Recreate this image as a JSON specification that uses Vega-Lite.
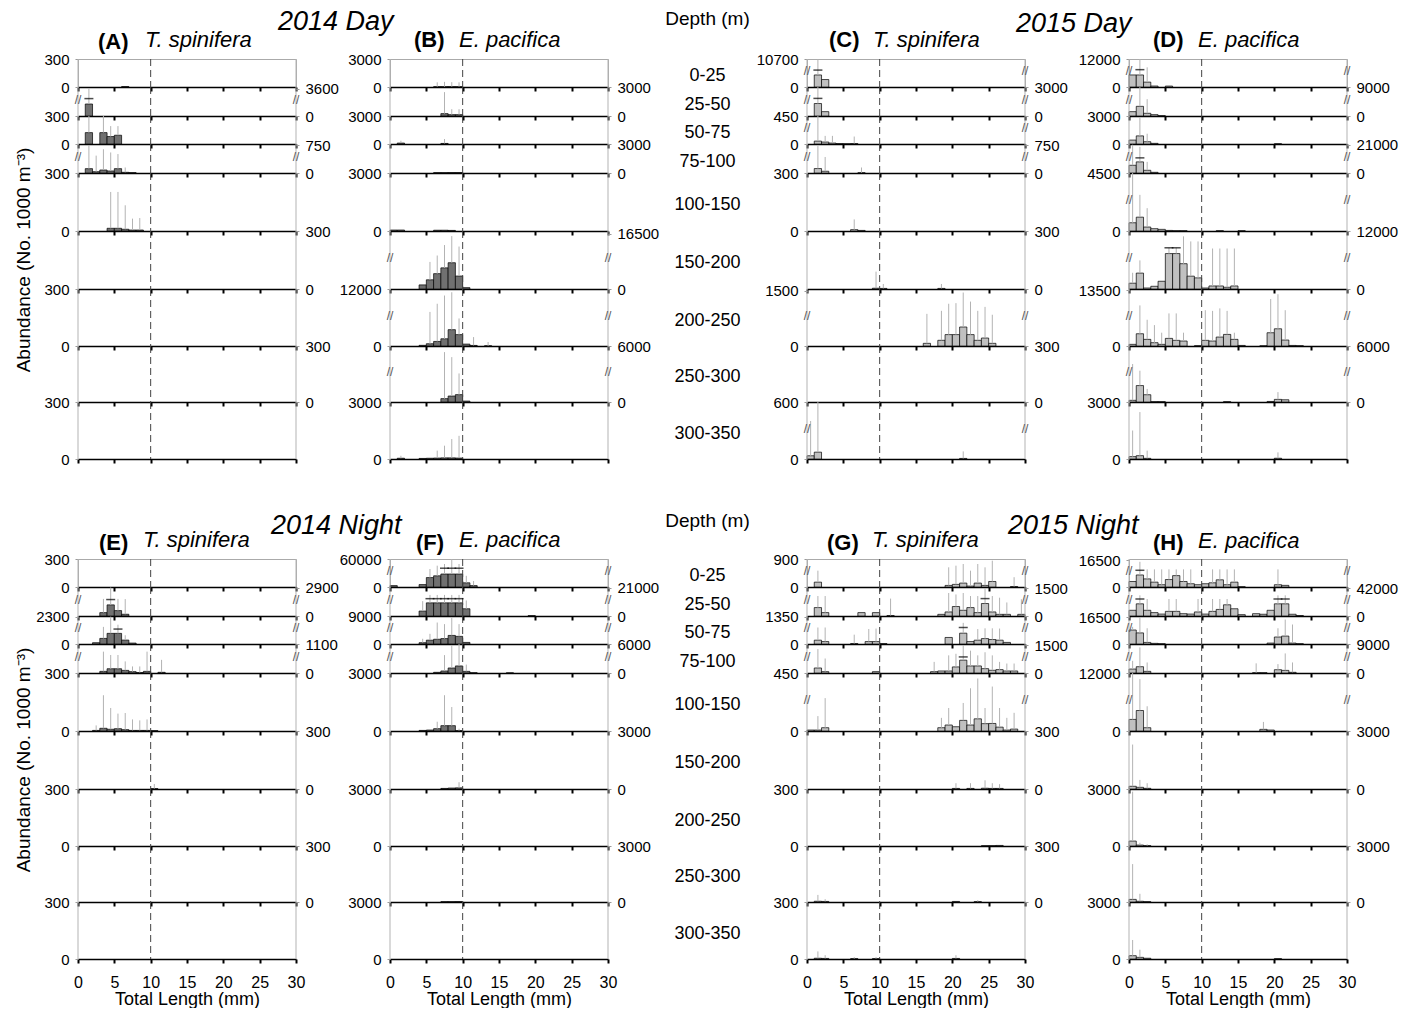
{
"$schema":"https://vega.github.io/schema/vega-lite/v6.json",
"padding":{"left":14,"top":7,"right":5,"bottom":0},
"config":{
 "font":"Liberation Sans",
 "numberFormat":"d",
 "scale":{"continuousPadding":0},
 "view":{"continuousWidth":218,"continuousHeight":28,"stroke":null},
 "axis":{"grid":false,"titleOpacity":0,"labelColor":"#000"},
 "axisX":{"labels":false,"tickSize":4,"tickWidth":2,"tickColor":"#000","domainColor":"#000","domainWidth":1.5,"tickCount":6,"labelFontSize":16,"labelPadding":11,"labelFlush":false,"titleFontSize":18,"titleFontWeight":"normal","titlePadding":0,"titleColor":"#000"},
 "axisY":{"domain":false,"tickSize":3,"tickColor":"#999","labelFontSize":15,"labelPadding":6,"labelOverlap":false},
 "bar":{"continuousBandSize":7.27,"fill":"#c0c0c0","stroke":"#000","strokeWidth":0.7},
 "rule":{"color":"#b3b3b3","strokeWidth":1},
 "tick":{"color":"#000","size":9,"thickness":1.5},
 "title":{"fontSize":22,"fontStyle":"italic","fontWeight":"normal","anchor":"start","frame":"group","baseline":"alphabetic","color":"#000"},
 "style":{"dash":{"color":"#444","stroke":"#444","strokeDash":[7,4],"strokeWidth":1.3},"bk":{"fontSize":12,"dy":-2,"color":"#555","fill":"#555"},"dl":{"fontSize":18,"dy":3}}
},
"data":{"name":"d"},
"datasets":{
"fr":[{"x":0},{"x":30}],
"ten":[{"x":10}],
"d":[
{"q":"A0","x":6.5,"v":5},
{"q":"A1","x":1.5,"v":124,"e":3600,"c":921},
{"q":"A2","x":1.5,"v":122,"e":300},{"q":"A2","x":3.5,"v":122,"e":300},{"q":"A2","x":4.5,"v":80,"e":192},{"q":"A2","x":5.5,"v":94,"e":192},
{"q":"A3","x":1.5,"v":45,"e":750},{"q":"A3","x":2.5,"v":14,"e":279},{"q":"A3","x":3.5,"v":31,"e":564},{"q":"A3","x":4.5,"v":21,"e":421},{"q":"A3","x":5.5,"v":45,"e":350},{"q":"A3","x":6.5,"v":7,"e":57},{"q":"A3","x":7.5,"v":4},
{"q":"A4","x":4.5,"v":14,"e":202},{"q":"A4","x":5.5,"v":14,"e":202},{"q":"A4","x":6.5,"v":9,"e":133},{"q":"A4","x":7.5,"v":5,"e":64},{"q":"A4","x":8.5,"v":5,"e":67},
{"q":"B0","x":6.5,"v":35,"e":500},{"q":"B0","x":7.5,"v":35,"e":550},{"q":"B0","x":8.5,"v":40,"e":520},{"q":"B0","x":9.5,"v":35,"e":500},
{"q":"B1","x":7.5,"v":245,"e":2470},{"q":"B1","x":8.5,"v":140,"e":700},{"q":"B1","x":9.5,"v":140,"e":700},
{"q":"B2","x":1.5,"v":100,"e":350},{"q":"B2","x":7.5,"v":60,"e":530},
{"q":"B3","x":6.5,"v":40},{"q":"B3","x":7.5,"v":40},{"q":"B3","x":8.5,"v":50},{"q":"B3","x":9.5,"v":50},
{"q":"B4","x":0.5,"v":50},{"q":"B4","x":1.5,"v":50},{"q":"B4","x":6.5,"v":40},{"q":"B4","x":7.5,"v":40},{"q":"B4","x":8.5,"v":30},
{"q":"B5","x":4.5,"v":212},{"q":"B5","x":5.5,"v":476,"e":1400},{"q":"B5","x":6.5,"v":794,"e":4060},{"q":"B5","x":7.5,"v":1094,"e":10000},{"q":"B5","x":8.5,"v":1359,"e":15100},{"q":"B5","x":9.5,"v":670,"e":9170},{"q":"B5","x":10.5,"v":70},
{"q":"B6","x":4.5,"v":35},{"q":"B6","x":5.5,"v":120,"e":3550},{"q":"B6","x":6.5,"v":240,"e":6570},{"q":"B6","x":7.5,"v":380,"e":9590},{"q":"B6","x":8.5,"v":860,"e":10800},{"q":"B6","x":9.5,"v":600,"e":1450},{"q":"B6","x":10.5,"v":100},{"q":"B6","x":11.5,"v":30,"e":470},{"q":"B6","x":13.5,"v":10,"e":210},
{"q":"B7","x":7.5,"v":180,"e":5020},{"q":"B7","x":8.5,"v":320,"e":4210},{"q":"B7","x":9.5,"v":395,"e":1590},{"q":"B7","x":10.5,"v":50},
{"q":"B8","x":1.5,"v":40,"e":170},{"q":"B8","x":4.5,"v":30},{"q":"B8","x":5.5,"v":40},{"q":"B8","x":6.5,"v":50,"e":440},{"q":"B8","x":7.5,"v":60,"e":700},{"q":"B8","x":8.5,"v":60,"e":1050},{"q":"B8","x":9.5,"v":50,"e":1220},
{"q":"C0","x":1.5,"v":129,"e":10700,"c":2410},{"q":"C0","x":2.5,"v":80},
{"q":"C1","x":1.5,"v":129,"e":3000,"c":760},{"q":"C1","x":2.5,"v":45},
{"q":"C2","x":1.5,"v":31,"e":450},{"q":"C2","x":2.5,"v":21,"e":87},{"q":"C2","x":3.5,"v":10,"e":87},{"q":"C2","x":4.5,"v":5},{"q":"C2","x":5.5,"v":3},{"q":"C2","x":6.5,"v":5,"e":80},
{"q":"C3","x":1.5,"v":46,"e":707},{"q":"C3","x":2.5,"v":18,"e":218},{"q":"C3","x":7.5,"v":3,"e":57},
{"q":"C4","x":6.5,"v":7,"e":60},{"q":"C4","x":7.5,"v":3},
{"q":"C5","x":9.5,"v":4,"e":90},{"q":"C5","x":10.5,"v":3,"e":26},{"q":"C5","x":18.5,"v":3,"e":26},
{"q":"C6","x":16.5,"v":14,"e":336},{"q":"C6","x":18.5,"v":30,"e":490},{"q":"C6","x":19.5,"v":60,"e":850},{"q":"C6","x":20.5,"v":60,"e":880},{"q":"C6","x":21.5,"v":100,"e":1420},{"q":"C6","x":22.5,"v":60,"e":960},{"q":"C6","x":23.5,"v":30,"e":490},{"q":"C6","x":24.5,"v":42,"e":690},{"q":"C6","x":25.5,"v":14,"e":290},
{"q":"C8","x":0.5,"v":17,"e":300},{"q":"C8","x":1.5,"v":36,"e":600},{"q":"C8","x":21.5,"v":3,"e":40},
{"q":"D0","x":0.5,"v":1290},{"q":"D0","x":1.5,"v":1290,"e":12000,"c":4000},{"q":"D0","x":2.5,"v":523,"e":5750},{"q":"D0","x":3.5,"v":105},{"q":"D0","x":5.5,"v":100},
{"q":"D1","x":0.5,"v":450},{"q":"D1","x":1.5,"v":1000,"e":9000},{"q":"D1","x":2.5,"v":280,"e":2700},{"q":"D1","x":3.5,"v":140},{"q":"D1","x":4.5,"v":40},
{"q":"D2","x":0.5,"v":420},{"q":"D2","x":1.5,"v":870,"e":2830},{"q":"D2","x":2.5,"v":245,"e":1100},{"q":"D2","x":3.5,"v":70},{"q":"D2","x":20.5,"v":30},
{"q":"D3","x":0.5,"v":800,"e":21000},{"q":"D3","x":1.5,"v":1150,"e":18000,"c":2400},{"q":"D3","x":2.5,"v":280,"e":1150},{"q":"D3","x":3.5,"v":70},
{"q":"D4","x":0.5,"v":426,"e":4500},{"q":"D4","x":1.5,"v":716,"e":2240},{"q":"D4","x":2.5,"v":205,"e":1180},{"q":"D4","x":3.5,"v":120},{"q":"D4","x":4.5,"v":85},{"q":"D4","x":5.5,"v":30},{"q":"D4","x":6.5,"v":15},{"q":"D4","x":7.5,"v":15},{"q":"D4","x":12.5,"v":15},{"q":"D4","x":15.5,"v":15},
{"q":"D5","x":0.5,"v":300,"e":840},{"q":"D5","x":1.5,"v":822,"e":1480},{"q":"D5","x":2.5,"v":52},{"q":"D5","x":3.5,"v":140},{"q":"D5","x":4.5,"v":400},{"q":"D5","x":5.5,"v":3830,"e":5920,"c":5920},{"q":"D5","x":6.5,"v":3830,"e":5920,"c":5920},{"q":"D5","x":7.5,"v":1309,"e":10060},{"q":"D5","x":8.5,"v":665,"e":8230},{"q":"D5","x":9.5,"v":576,"e":8230},{"q":"D5","x":10.5,"v":52},{"q":"D5","x":11.5,"v":157,"e":5660},{"q":"D5","x":12.5,"v":157,"e":5660},{"q":"D5","x":13.5,"v":89,"e":5660},{"q":"D5","x":14.5,"v":157,"e":5660},
{"q":"D6","x":0.5,"v":87},{"q":"D6","x":1.5,"v":645,"e":6800},{"q":"D6","x":2.5,"v":349,"e":1380},{"q":"D6","x":3.5,"v":174,"e":1100},{"q":"D6","x":4.5,"v":87,"e":700},{"q":"D6","x":5.5,"v":401,"e":3300},{"q":"D6","x":6.5,"v":297,"e":3300},{"q":"D6","x":7.5,"v":262,"e":700},{"q":"D6","x":9.5,"v":15},{"q":"D6","x":10.5,"v":297,"e":4700},{"q":"D6","x":11.5,"v":262,"e":4400},{"q":"D6","x":12.5,"v":471,"e":5500},{"q":"D6","x":13.5,"v":610,"e":4400},{"q":"D6","x":14.5,"v":349,"e":700},{"q":"D6","x":15.5,"v":30},{"q":"D6","x":18.5,"v":10},{"q":"D6","x":19.5,"v":698,"e":9600},{"q":"D6","x":20.5,"v":907,"e":11700},{"q":"D6","x":21.5,"v":314,"e":4700},{"q":"D6","x":22.5,"v":30},{"q":"D6","x":23.5,"v":15},
{"q":"D7","x":0.5,"v":90,"e":3100},{"q":"D7","x":1.5,"v":880,"e":2030},{"q":"D7","x":2.5,"v":390,"e":700},{"q":"D7","x":3.5,"v":20},{"q":"D7","x":4.5,"v":20},{"q":"D7","x":13.5,"v":20},{"q":"D7","x":19.5,"v":30},{"q":"D7","x":20.5,"v":140,"e":530},{"q":"D7","x":21.5,"v":120},
{"q":"D8","x":0.5,"v":125,"e":1500},{"q":"D8","x":1.5,"v":175,"e":2470},{"q":"D8","x":2.5,"v":35,"e":440},{"q":"D8","x":20.5,"v":40,"e":350},
{"q":"E1","x":3.5,"v":35,"e":660},{"q":"E1","x":4.5,"v":115,"e":2900,"c":534},{"q":"E1","x":5.5,"v":56,"e":660},{"q":"E1","x":6.5,"v":18,"e":620},
{"q":"E2","x":2.5,"v":14},{"q":"E2","x":3.5,"v":60,"e":650},{"q":"E2","x":4.5,"v":114,"e":2300},{"q":"E2","x":5.5,"v":114,"e":1000,"c":300},{"q":"E2","x":6.5,"v":42,"e":94},{"q":"E2","x":7.5,"v":10},
{"q":"E3","x":3.5,"v":17,"e":600},{"q":"E3","x":4.5,"v":44,"e":380},{"q":"E3","x":5.5,"v":44,"e":380},{"q":"E3","x":6.5,"v":27,"e":120},{"q":"E3","x":7.5,"v":14,"e":68},{"q":"E3","x":8.5,"v":5,"e":68},{"q":"E3","x":9.5,"v":17,"e":600},{"q":"E3","x":11.5,"v":7,"e":136},
{"q":"E4","x":2.5,"v":3,"e":29},{"q":"E4","x":3.5,"v":14,"e":185},{"q":"E4","x":4.5,"v":9,"e":119},{"q":"E4","x":5.5,"v":12,"e":90},{"q":"E4","x":6.5,"v":7,"e":93},{"q":"E4","x":7.5,"v":3,"e":60},{"q":"E4","x":8.5,"v":3,"e":55},{"q":"E4","x":9.5,"v":3,"e":60},{"q":"E4","x":10.5,"v":2},
{"q":"E5","x":10.5,"v":2,"e":26},
{"q":"F0","x":0.5,"v":150},{"q":"F0","x":4.5,"v":260},{"q":"F0","x":5.5,"v":1010,"e":18200},{"q":"F0","x":6.5,"v":1200,"e":32100},{"q":"F0","x":7.5,"v":1390,"e":39100,"c":21500},{"q":"F0","x":8.5,"v":1390,"e":60000,"c":21500},{"q":"F0","x":9.5,"v":1390,"e":39100,"c":21500},{"q":"F0","x":10.5,"v":450,"e":1200},{"q":"F0","x":11.5,"v":150,"e":640},
{"q":"F1","x":4.5,"v":510,"e":2000},{"q":"F1","x":5.5,"v":1360,"e":10800,"c":5500},{"q":"F1","x":6.5,"v":1360,"e":10800,"c":5500},{"q":"F1","x":7.5,"v":1360,"e":10800,"c":5500},{"q":"F1","x":8.5,"v":1360,"e":10800,"c":5500},{"q":"F1","x":9.5,"v":1360,"e":10800,"c":5500},{"q":"F1","x":10.5,"v":750,"e":3000},{"q":"F1","x":19.5,"v":40},
{"q":"F2","x":4.5,"v":140,"e":560},{"q":"F2","x":5.5,"v":410,"e":1090},{"q":"F2","x":6.5,"v":510,"e":5500},{"q":"F2","x":7.5,"v":580,"e":4640},{"q":"F2","x":8.5,"v":920,"e":8130},{"q":"F2","x":9.5,"v":820,"e":4640},{"q":"F2","x":10.5,"v":170},
{"q":"F3","x":6.5,"v":70},{"q":"F3","x":7.5,"v":210,"e":2550},{"q":"F3","x":8.5,"v":520,"e":5700},{"q":"F3","x":9.5,"v":730,"e":6000},{"q":"F3","x":10.5,"v":170,"e":870},{"q":"F3","x":11.5,"v":30},{"q":"F3","x":16.5,"v":15},
{"q":"F4","x":4.5,"v":30},{"q":"F4","x":5.5,"v":50},{"q":"F4","x":6.5,"v":120,"e":480},{"q":"F4","x":7.5,"v":276,"e":1850},{"q":"F4","x":8.5,"v":276,"e":1240},{"q":"F4","x":9.5,"v":20,"e":120},
{"q":"F5","x":7.5,"v":30},{"q":"F5","x":8.5,"v":50},{"q":"F5","x":9.5,"v":60,"e":350},
{"q":"F7","x":7.5,"v":20},{"q":"F7","x":8.5,"v":20},{"q":"F7","x":9.5,"v":25},
{"q":"G0","x":1.5,"v":52,"e":275},{"q":"G0","x":19.5,"v":17,"e":454},{"q":"G0","x":20.5,"v":28,"e":543},{"q":"G0","x":21.5,"v":42,"e":632},{"q":"G0","x":22.5,"v":10,"e":275},{"q":"G0","x":23.5,"v":42,"e":632},{"q":"G0","x":24.5,"v":17,"e":454},{"q":"G0","x":25.5,"v":59,"e":810},{"q":"G0","x":28.5,"v":5,"e":105},
{"q":"G1","x":1.5,"v":87,"e":696},{"q":"G1","x":2.5,"v":35,"e":696},{"q":"G1","x":7.5,"v":35},{"q":"G1","x":9.5,"v":35},{"q":"G1","x":11.5,"v":5,"e":440},{"q":"G1","x":18.5,"v":17},{"q":"G1","x":19.5,"v":42,"e":1000},{"q":"G1","x":20.5,"v":98,"e":855},{"q":"G1","x":21.5,"v":59,"e":1000},{"q":"G1","x":22.5,"v":87,"e":696},{"q":"G1","x":23.5,"v":35,"e":696},{"q":"G1","x":24.5,"v":129,"e":1500,"c":440},{"q":"G1","x":25.5,"v":42,"e":696},{"q":"G1","x":26.5,"v":17,"e":530},{"q":"G1","x":27.5,"v":17,"e":140},{"q":"G1","x":29.5,"v":17,"e":375},
{"q":"G2","x":1.5,"v":41,"e":373},{"q":"G2","x":2.5,"v":26,"e":373},{"q":"G2","x":6.5,"v":5,"e":100},{"q":"G2","x":8.5,"v":26,"e":240},{"q":"G2","x":9.5,"v":26,"e":280},{"q":"G2","x":10.5,"v":5},{"q":"G2","x":19.5,"v":70},{"q":"G2","x":21.5,"v":116,"e":790,"c":373},{"q":"G2","x":22.5,"v":26},{"q":"G2","x":23.5,"v":41,"e":234},{"q":"G2","x":24.5,"v":58,"e":300},{"q":"G2","x":25.5,"v":48,"e":300},{"q":"G2","x":26.5,"v":41,"e":280},{"q":"G2","x":27.5,"v":17},
{"q":"G3","x":1.5,"v":52,"e":1090},{"q":"G3","x":2.5,"v":14,"e":150},{"q":"G3","x":9.5,"v":14},{"q":"G3","x":17.5,"v":14,"e":115},{"q":"G3","x":18.5,"v":21},{"q":"G3","x":19.5,"v":21,"e":464},{"q":"G3","x":20.5,"v":63,"e":621},{"q":"G3","x":21.5,"v":133,"e":1500,"c":307},{"q":"G3","x":22.5,"v":73,"e":935},{"q":"G3","x":23.5,"v":73,"e":464},{"q":"G3","x":24.5,"v":45,"e":778},{"q":"G3","x":25.5,"v":28,"e":464},{"q":"G3","x":26.5,"v":35,"e":115},{"q":"G3","x":27.5,"v":21,"e":98},{"q":"G3","x":28.5,"v":21,"e":98},
{"q":"G4","x":0.5,"v":5},{"q":"G4","x":1.5,"v":5,"e":77},{"q":"G4","x":2.5,"v":17,"e":190},{"q":"G4","x":18.5,"v":17,"e":68},{"q":"G4","x":19.5,"v":31,"e":119},{"q":"G4","x":20.5,"v":22},{"q":"G4","x":21.5,"v":55,"e":145},{"q":"G4","x":22.5,"v":31,"e":292},{"q":"G4","x":23.5,"v":63,"e":393},{"q":"G4","x":24.5,"v":38,"e":119},{"q":"G4","x":25.5,"v":39,"e":310},{"q":"G4","x":26.5,"v":20,"e":119},{"q":"G4","x":27.5,"v":5,"e":68},{"q":"G4","x":28.5,"v":10,"e":94},
{"q":"G5","x":20.5,"v":3,"e":30},{"q":"G5","x":22.5,"v":3,"e":30},{"q":"G5","x":24.5,"v":4,"e":45},{"q":"G5","x":25.5,"v":3,"e":30},{"q":"G5","x":26.5,"v":3,"e":25},
{"q":"G6","x":24.5,"v":2},{"q":"G6","x":25.5,"v":2},{"q":"G6","x":26.5,"v":3},
{"q":"G7","x":1.5,"v":4,"e":38},{"q":"G7","x":2.5,"v":3,"e":15},{"q":"G7","x":20.5,"v":3},{"q":"G7","x":23.5,"v":2,"e":10},
{"q":"G8","x":1.5,"v":4,"e":40},{"q":"G8","x":2.5,"v":3,"e":20},{"q":"G8","x":6.5,"v":2,"e":10},{"q":"G8","x":9.5,"v":2,"e":10},{"q":"G8","x":20.5,"v":3,"e":20},
{"q":"H0","x":0.5,"v":590},{"q":"H0","x":1.5,"v":1290,"e":14700,"c":4700},{"q":"H0","x":2.5,"v":870,"e":5790},{"q":"H0","x":3.5,"v":520,"e":5790},{"q":"H0","x":4.5,"v":245,"e":5790},{"q":"H0","x":5.5,"v":800,"e":5790},{"q":"H0","x":6.5,"v":1220,"e":5790},{"q":"H0","x":7.5,"v":590,"e":5790},{"q":"H0","x":8.5,"v":350,"e":5790},{"q":"H0","x":9.5,"v":245},{"q":"H0","x":10.5,"v":350},{"q":"H0","x":11.5,"v":450,"e":5790},{"q":"H0","x":12.5,"v":770,"e":5790},{"q":"H0","x":13.5,"v":245,"e":5790},{"q":"H0","x":14.5,"v":520,"e":5790},{"q":"H0","x":15.5,"v":30},{"q":"H0","x":20.5,"v":245,"e":5790},{"q":"H0","x":21.5,"v":175},
{"q":"H1","x":0.5,"v":590},{"q":"H1","x":1.5,"v":1260,"e":20000,"c":9000},{"q":"H1","x":2.5,"v":590,"e":9000},{"q":"H1","x":3.5,"v":350},{"q":"H1","x":4.5,"v":200},{"q":"H1","x":5.5,"v":480,"e":9000},{"q":"H1","x":6.5,"v":480,"e":9000},{"q":"H1","x":7.5,"v":240},{"q":"H1","x":8.5,"v":200},{"q":"H1","x":9.5,"v":420,"e":9000},{"q":"H1","x":10.5,"v":200},{"q":"H1","x":11.5,"v":480,"e":9000},{"q":"H1","x":12.5,"v":680,"e":9000},{"q":"H1","x":13.5,"v":1160,"e":9000},{"q":"H1","x":14.5,"v":750},{"q":"H1","x":15.5,"v":140},{"q":"H1","x":17.5,"v":240},{"q":"H1","x":18.5,"v":180},{"q":"H1","x":19.5,"v":590},{"q":"H1","x":20.5,"v":1260,"e":20000,"c":9000},{"q":"H1","x":21.5,"v":1260,"e":20000,"c":9000},{"q":"H1","x":22.5,"v":180},{"q":"H1","x":23.5,"v":50},
{"q":"H2","x":0.5,"v":1500,"e":5250},{"q":"H2","x":1.5,"v":1190,"e":16500},{"q":"H2","x":2.5,"v":170,"e":3550},{"q":"H2","x":3.5,"v":70},{"q":"H2","x":4.5,"v":30},{"q":"H2","x":19.5,"v":100},{"q":"H2","x":20.5,"v":750,"e":3550},{"q":"H2","x":21.5,"v":850,"e":13800},{"q":"H2","x":22.5,"v":100,"e":8000},{"q":"H2","x":23.5,"v":30},
{"q":"H3","x":0.5,"v":410,"e":1260},{"q":"H3","x":1.5,"v":650,"e":7250},{"q":"H3","x":2.5,"v":170,"e":1090},{"q":"H3","x":17.5,"v":30,"e":1000},{"q":"H3","x":18.5,"v":30},{"q":"H3","x":20.5,"v":340,"e":920},{"q":"H3","x":21.5,"v":270,"e":4120},{"q":"H3","x":22.5,"v":70,"e":1090},
{"q":"H4","x":0.5,"v":600,"e":12000},{"q":"H4","x":1.5,"v":1060,"e":9780},{"q":"H4","x":2.5,"v":170,"e":1280},{"q":"H4","x":18.5,"v":85,"e":470},{"q":"H4","x":19.5,"v":50},
{"q":"H5","x":0.5,"v":140,"e":2300},{"q":"H5","x":1.5,"v":87,"e":470},{"q":"H5","x":2.5,"v":35,"e":300},
{"q":"H6","x":0.5,"v":260,"e":2860},{"q":"H6","x":1.5,"v":50,"e":170},{"q":"H6","x":2.5,"v":20,"e":90},
{"q":"H7","x":0.5,"v":140,"e":2030},{"q":"H7","x":1.5,"v":40,"e":440},{"q":"H7","x":2.5,"v":20},
{"q":"H8","x":0.5,"v":175,"e":1000},{"q":"H8","x":1.5,"v":87,"e":490},{"q":"H8","x":2.5,"v":40},{"q":"H8","x":20.5,"v":20}
]},
"columns":7,"spacing":0,"bounds":"flush","align":"each",
"concat":[
{"height":28,"view":{"stroke":"#aaa"},"title":{"text":"T. spinifera","dx":67,"offset":0.5},"transform":[{"filter":"datum.q=='A0'"}],"encoding":{"x":{"field":"x","type":"quantitative","scale":{"domain":[0,30],"padding":0}}},"layer":[{"mark":{"type":"bar","fill":"#707070"},"encoding":{"y":{"field":"v","type":"quantitative","scale":{"domain":[0,150,300],"range":[28,14,0]},"axis":{"values":[0,150,300]}}}},{"transform":[{"filter":"datum.e"}],"mark":"rule","encoding":{"y":{"field":"v","type":"quantitative"},"y2":{"field":"e"}}},{"data":{"name":"fr"},"mark":"rule","encoding":{}},{"data":{"name":"ten"},"mark":{"type":"rule","style":"dash"},"encoding":{}}]},
{"width":94,"height":1,"data":{"values":[]},"mark":"point"},
{"height":28,"view":{"stroke":"#aaa"},"title":{"text":"E. pacifica","dx":69,"offset":0.5},"transform":[{"filter":"datum.q=='B0'"}],"encoding":{"x":{"field":"x","type":"quantitative","scale":{"domain":[0,30],"padding":0}}},"layer":[{"mark":{"type":"bar","fill":"#707070"},"encoding":{"y":{"field":"v","type":"quantitative","scale":{"domain":[0,1500,3000],"range":[28,14,0]},"axis":{"values":[0,1500,3000]}}}},{"transform":[{"filter":"datum.e"}],"mark":"rule","encoding":{"y":{"field":"v","type":"quantitative"},"y2":{"field":"e"}}},{"data":{"name":"fr"},"mark":"rule","encoding":{}},{"data":{"name":"ten"},"mark":{"type":"rule","style":"dash"},"encoding":{}}]},
{"width":199,"height":28,"title":{"text":"Depth (m)","anchor":"middle","fontStyle":"normal","fontSize":19,"offset":30},"data":{"values":[{"t":"0-25"}]},"mark":{"type":"text","style":"dl"},"encoding":{"text":{"field":"t","type":"nominal"}}},
{"height":28,"view":{"stroke":"#aaa"},"title":{"text":"T. spinifera","dx":66,"offset":0.5},"transform":[{"filter":"datum.q=='C0'"}],"encoding":{"x":{"field":"x","type":"quantitative","scale":{"domain":[0,30],"padding":0}}},"layer":[{"mark":"bar","encoding":{"y":{"field":"v","type":"quantitative","scale":{"domain":[0,150,10700],"range":[28,14,0]},"axis":{"values":[0,150,10700]}}}},{"transform":[{"filter":"datum.e"}],"mark":"rule","encoding":{"y":{"field":"v","type":"quantitative"},"y2":{"field":"e"}}},{"data":{"name":"fr"},"mark":"rule","encoding":{}},{"data":{"name":"ten"},"mark":{"type":"rule","style":"dash"},"encoding":{}},{"transform":[{"filter":"datum.c"}],"mark":{"type":"tick","orient":"horizontal"},"encoding":{"y":{"field":"c","type":"quantitative"}}},{"data":{"name":"fr"},"mark":{"type":"text","text":"//","style":"bk"},"encoding":{"y":{"datum":150}}}]},
{"width":104,"height":1,"data":{"values":[]},"mark":"point"},
{"height":28,"view":{"stroke":"#aaa"},"title":{"text":"E. pacifica","dx":69,"offset":0.5},"transform":[{"filter":"datum.q=='D0'"}],"encoding":{"x":{"field":"x","type":"quantitative","scale":{"domain":[0,30],"padding":0}}},"layer":[{"mark":"bar","encoding":{"y":{"field":"v","type":"quantitative","scale":{"domain":[0,1500,12000],"range":[28,14,0]},"axis":{"values":[0,1500,12000]}}}},{"transform":[{"filter":"datum.e"}],"mark":"rule","encoding":{"y":{"field":"v","type":"quantitative"},"y2":{"field":"e"}}},{"data":{"name":"fr"},"mark":"rule","encoding":{}},{"data":{"name":"ten"},"mark":{"type":"rule","style":"dash"},"encoding":{}},{"transform":[{"filter":"datum.c"}],"mark":{"type":"tick","orient":"horizontal"},"encoding":{"y":{"field":"c","type":"quantitative"}}},{"data":{"name":"fr"},"mark":{"type":"text","text":"//","style":"bk"},"encoding":{"y":{"datum":1500}}}]},

{"height":29,"title":{"text":"(A)","fontStyle":"normal","fontWeight":"bold","dx":20,"offset":28},"transform":[{"filter":"datum.q=='A1'"}],"encoding":{"x":{"field":"x","type":"quantitative","scale":{"domain":[0,30],"padding":0}}},"layer":[{"mark":{"type":"bar","fill":"#707070"},"encoding":{"y":{"field":"v","type":"quantitative","scale":{"domain":[0,150,3600],"range":[29,14.5,0]},"axis":{"orient":"right","values":[0,150,3600]}}}},{"transform":[{"filter":"datum.e"}],"mark":"rule","encoding":{"y":{"field":"v","type":"quantitative"},"y2":{"field":"e"}}},{"data":{"name":"fr"},"mark":"rule","encoding":{}},{"data":{"name":"ten"},"mark":{"type":"rule","style":"dash"},"encoding":{}},{"transform":[{"filter":"datum.c"}],"mark":{"type":"tick","orient":"horizontal"},"encoding":{"y":{"field":"c","type":"quantitative"}}},{"data":{"name":"fr"},"mark":{"type":"text","text":"//","style":"bk"},"encoding":{"y":{"datum":150}}}]},
{"width":94,"height":1,"data":{"values":[]},"mark":"point"},
{"height":29,"title":{"text":"(B)","fontStyle":"normal","fontWeight":"bold","dx":24,"offset":28},"transform":[{"filter":"datum.q=='B1'"}],"encoding":{"x":{"field":"x","type":"quantitative","scale":{"domain":[0,30],"padding":0}}},"layer":[{"mark":{"type":"bar","fill":"#707070"},"encoding":{"y":{"field":"v","type":"quantitative","scale":{"domain":[0,1500,3000],"range":[29,14.5,0]},"axis":{"orient":"right","values":[0,1500,3000]}}}},{"transform":[{"filter":"datum.e"}],"mark":"rule","encoding":{"y":{"field":"v","type":"quantitative"},"y2":{"field":"e"}}},{"data":{"name":"fr"},"mark":"rule","encoding":{}},{"data":{"name":"ten"},"mark":{"type":"rule","style":"dash"},"encoding":{}}]},
{"width":199,"height":29,"data":{"values":[{"t":"25-50"}]},"mark":{"type":"text","style":"dl"},"encoding":{"text":{"field":"t","type":"nominal"}}},
{"height":29,"title":{"text":"(C)","fontStyle":"normal","fontWeight":"bold","dx":22,"offset":28},"transform":[{"filter":"datum.q=='C1'"}],"encoding":{"x":{"field":"x","type":"quantitative","scale":{"domain":[0,30],"padding":0}}},"layer":[{"mark":"bar","encoding":{"y":{"field":"v","type":"quantitative","scale":{"domain":[0,150,3000],"range":[29,14.5,0]},"axis":{"orient":"right","values":[0,150,3000]}}}},{"transform":[{"filter":"datum.e"}],"mark":"rule","encoding":{"y":{"field":"v","type":"quantitative"},"y2":{"field":"e"}}},{"data":{"name":"fr"},"mark":"rule","encoding":{}},{"data":{"name":"ten"},"mark":{"type":"rule","style":"dash"},"encoding":{}},{"transform":[{"filter":"datum.c"}],"mark":{"type":"tick","orient":"horizontal"},"encoding":{"y":{"field":"c","type":"quantitative"}}},{"data":{"name":"fr"},"mark":{"type":"text","text":"//","style":"bk"},"encoding":{"y":{"datum":150}}}]},
{"width":104,"height":1,"data":{"values":[]},"mark":"point"},
{"height":29,"title":{"text":"(D)","fontStyle":"normal","fontWeight":"bold","dx":24,"offset":28},"transform":[{"filter":"datum.q=='D1'"}],"encoding":{"x":{"field":"x","type":"quantitative","scale":{"domain":[0,30],"padding":0}}},"layer":[{"mark":"bar","encoding":{"y":{"field":"v","type":"quantitative","scale":{"domain":[0,1500,9000],"range":[29,14.5,0]},"axis":{"orient":"right","values":[0,1500,9000]}}}},{"transform":[{"filter":"datum.e"}],"mark":"rule","encoding":{"y":{"field":"v","type":"quantitative"},"y2":{"field":"e"}}},{"data":{"name":"fr"},"mark":"rule","encoding":{}},{"data":{"name":"ten"},"mark":{"type":"rule","style":"dash"},"encoding":{}},{"data":{"name":"fr"},"mark":{"type":"text","text":"//","style":"bk"},"encoding":{"y":{"datum":1500}}}]},

{"height":28,"title":{"text":"2014 Day","fontSize":27,"dx":200,"offset":73.5},"transform":[{"filter":"datum.q=='A2'"}],"encoding":{"x":{"field":"x","type":"quantitative","scale":{"domain":[0,30],"padding":0}}},"layer":[{"mark":{"type":"bar","fill":"#707070"},"encoding":{"y":{"field":"v","type":"quantitative","scale":{"domain":[0,150,300],"range":[28,14,0]},"axis":{"values":[0,150,300]}}}},{"transform":[{"filter":"datum.e"}],"mark":"rule","encoding":{"y":{"field":"v","type":"quantitative"},"y2":{"field":"e"}}},{"data":{"name":"fr"},"mark":"rule","encoding":{}},{"data":{"name":"ten"},"mark":{"type":"rule","style":"dash"},"encoding":{}}]},
{"width":94,"height":1,"data":{"values":[]},"mark":"point"},
{"height":28,"transform":[{"filter":"datum.q=='B2'"}],"encoding":{"x":{"field":"x","type":"quantitative","scale":{"domain":[0,30],"padding":0}}},"layer":[{"mark":{"type":"bar","fill":"#707070"},"encoding":{"y":{"field":"v","type":"quantitative","scale":{"domain":[0,1500,3000],"range":[28,14,0]},"axis":{"values":[0,1500,3000]}}}},{"transform":[{"filter":"datum.e"}],"mark":"rule","encoding":{"y":{"field":"v","type":"quantitative"},"y2":{"field":"e"}}},{"data":{"name":"fr"},"mark":"rule","encoding":{}},{"data":{"name":"ten"},"mark":{"type":"rule","style":"dash"},"encoding":{}}]},
{"width":199,"height":28,"data":{"values":[{"t":"50-75"}]},"mark":{"type":"text","style":"dl"},"encoding":{"text":{"field":"t","type":"nominal"}}},
{"height":28,"title":{"text":"2015 Day","fontSize":27,"dx":209,"offset":71.5},"transform":[{"filter":"datum.q=='C2'"}],"encoding":{"x":{"field":"x","type":"quantitative","scale":{"domain":[0,30],"padding":0}}},"layer":[{"mark":"bar","encoding":{"y":{"field":"v","type":"quantitative","scale":{"domain":[0,150,450],"range":[28,14,0]},"axis":{"values":[0,150,450]}}}},{"transform":[{"filter":"datum.e"}],"mark":"rule","encoding":{"y":{"field":"v","type":"quantitative"},"y2":{"field":"e"}}},{"data":{"name":"fr"},"mark":"rule","encoding":{}},{"data":{"name":"ten"},"mark":{"type":"rule","style":"dash"},"encoding":{}},{"data":{"name":"fr"},"mark":{"type":"text","text":"//","style":"bk"},"encoding":{"y":{"datum":150}}}]},
{"width":104,"height":1,"data":{"values":[]},"mark":"point"},
{"height":28,"transform":[{"filter":"datum.q=='D2'"}],"encoding":{"x":{"field":"x","type":"quantitative","scale":{"domain":[0,30],"padding":0}}},"layer":[{"mark":"bar","encoding":{"y":{"field":"v","type":"quantitative","scale":{"domain":[0,1500,3000],"range":[28,14,0]},"axis":{"values":[0,1500,3000]}}}},{"transform":[{"filter":"datum.e"}],"mark":"rule","encoding":{"y":{"field":"v","type":"quantitative"},"y2":{"field":"e"}}},{"data":{"name":"fr"},"mark":"rule","encoding":{}},{"data":{"name":"ten"},"mark":{"type":"rule","style":"dash"},"encoding":{}}]},

{"height":29,"transform":[{"filter":"datum.q=='A3'"}],"encoding":{"x":{"field":"x","type":"quantitative","scale":{"domain":[0,30],"padding":0}}},"layer":[{"mark":{"type":"bar","fill":"#707070"},"encoding":{"y":{"field":"v","type":"quantitative","scale":{"domain":[0,150,750],"range":[29,14.5,0]},"axis":{"orient":"right","values":[0,150,750]}}}},{"transform":[{"filter":"datum.e"}],"mark":"rule","encoding":{"y":{"field":"v","type":"quantitative"},"y2":{"field":"e"}}},{"data":{"name":"fr"},"mark":"rule","encoding":{}},{"data":{"name":"ten"},"mark":{"type":"rule","style":"dash"},"encoding":{}},{"data":{"name":"fr"},"mark":{"type":"text","text":"//","style":"bk"},"encoding":{"y":{"datum":150}}}]},
{"width":94,"height":1,"data":{"values":[]},"mark":"point"},
{"height":29,"transform":[{"filter":"datum.q=='B3'"}],"encoding":{"x":{"field":"x","type":"quantitative","scale":{"domain":[0,30],"padding":0}}},"layer":[{"mark":{"type":"bar","fill":"#707070"},"encoding":{"y":{"field":"v","type":"quantitative","scale":{"domain":[0,1500,3000],"range":[29,14.5,0]},"axis":{"orient":"right","values":[0,1500,3000]}}}},{"transform":[{"filter":"datum.e"}],"mark":"rule","encoding":{"y":{"field":"v","type":"quantitative"},"y2":{"field":"e"}}},{"data":{"name":"fr"},"mark":"rule","encoding":{}},{"data":{"name":"ten"},"mark":{"type":"rule","style":"dash"},"encoding":{}}]},
{"width":199,"height":29,"data":{"values":[{"t":"75-100"}]},"mark":{"type":"text","style":"dl"},"encoding":{"text":{"field":"t","type":"nominal"}}},
{"height":29,"transform":[{"filter":"datum.q=='C3'"}],"encoding":{"x":{"field":"x","type":"quantitative","scale":{"domain":[0,30],"padding":0}}},"layer":[{"mark":"bar","encoding":{"y":{"field":"v","type":"quantitative","scale":{"domain":[0,150,750],"range":[29,14.5,0]},"axis":{"orient":"right","values":[0,150,750]}}}},{"transform":[{"filter":"datum.e"}],"mark":"rule","encoding":{"y":{"field":"v","type":"quantitative"},"y2":{"field":"e"}}},{"data":{"name":"fr"},"mark":"rule","encoding":{}},{"data":{"name":"ten"},"mark":{"type":"rule","style":"dash"},"encoding":{}},{"data":{"name":"fr"},"mark":{"type":"text","text":"//","style":"bk"},"encoding":{"y":{"datum":150}}}]},
{"width":104,"height":1,"data":{"values":[]},"mark":"point"},
{"height":29,"transform":[{"filter":"datum.q=='D3'"}],"encoding":{"x":{"field":"x","type":"quantitative","scale":{"domain":[0,30],"padding":0}}},"layer":[{"mark":"bar","encoding":{"y":{"field":"v","type":"quantitative","scale":{"domain":[0,1500,21000],"range":[29,14.5,0]},"axis":{"orient":"right","values":[0,1500,21000]}}}},{"transform":[{"filter":"datum.e"}],"mark":"rule","encoding":{"y":{"field":"v","type":"quantitative"},"y2":{"field":"e"}}},{"data":{"name":"fr"},"mark":"rule","encoding":{}},{"data":{"name":"ten"},"mark":{"type":"rule","style":"dash"},"encoding":{}},{"transform":[{"filter":"datum.c"}],"mark":{"type":"tick","orient":"horizontal"},"encoding":{"y":{"field":"c","type":"quantitative"}}},{"data":{"name":"fr"},"mark":{"type":"text","text":"//","style":"bk"},"encoding":{"y":{"datum":1500}}}]},

{"height":58,"transform":[{"filter":"datum.q=='A4'"}],"encoding":{"x":{"field":"x","type":"quantitative","scale":{"domain":[0,30],"padding":0}}},"layer":[{"mark":{"type":"bar","fill":"#707070"},"encoding":{"y":{"field":"v","type":"quantitative","scale":{"domain":[0,150,300],"range":[58,29,0]},"axis":{"values":[0,150,300]}}}},{"transform":[{"filter":"datum.e"}],"mark":"rule","encoding":{"y":{"field":"v","type":"quantitative"},"y2":{"field":"e"}}},{"data":{"name":"fr"},"mark":"rule","encoding":{}},{"data":{"name":"ten"},"mark":{"type":"rule","style":"dash"},"encoding":{}}]},
{"width":94,"height":1,"data":{"values":[]},"mark":"point"},
{"height":58,"transform":[{"filter":"datum.q=='B4'"}],"encoding":{"x":{"field":"x","type":"quantitative","scale":{"domain":[0,30],"padding":0}}},"layer":[{"mark":{"type":"bar","fill":"#707070"},"encoding":{"y":{"field":"v","type":"quantitative","scale":{"domain":[0,1500,3000],"range":[58,29,0]},"axis":{"values":[0,1500,3000]}}}},{"transform":[{"filter":"datum.e"}],"mark":"rule","encoding":{"y":{"field":"v","type":"quantitative"},"y2":{"field":"e"}}},{"data":{"name":"fr"},"mark":"rule","encoding":{}},{"data":{"name":"ten"},"mark":{"type":"rule","style":"dash"},"encoding":{}}]},
{"width":199,"height":58,"data":{"values":[{"t":"100-150"}]},"mark":{"type":"text","style":"dl"},"encoding":{"text":{"field":"t","type":"nominal"}}},
{"height":58,"transform":[{"filter":"datum.q=='C4'"}],"encoding":{"x":{"field":"x","type":"quantitative","scale":{"domain":[0,30],"padding":0}}},"layer":[{"mark":"bar","encoding":{"y":{"field":"v","type":"quantitative","scale":{"domain":[0,150,300],"range":[58,29,0]},"axis":{"values":[0,150,300]}}}},{"transform":[{"filter":"datum.e"}],"mark":"rule","encoding":{"y":{"field":"v","type":"quantitative"},"y2":{"field":"e"}}},{"data":{"name":"fr"},"mark":"rule","encoding":{}},{"data":{"name":"ten"},"mark":{"type":"rule","style":"dash"},"encoding":{}}]},
{"width":104,"height":1,"data":{"values":[]},"mark":"point"},
{"height":58,"transform":[{"filter":"datum.q=='D4'"}],"encoding":{"x":{"field":"x","type":"quantitative","scale":{"domain":[0,30],"padding":0}}},"layer":[{"mark":"bar","encoding":{"y":{"field":"v","type":"quantitative","scale":{"domain":[0,1500,4500],"range":[58,29,0]},"axis":{"values":[0,1500,4500]}}}},{"transform":[{"filter":"datum.e"}],"mark":"rule","encoding":{"y":{"field":"v","type":"quantitative"},"y2":{"field":"e"}}},{"data":{"name":"fr"},"mark":"rule","encoding":{}},{"data":{"name":"ten"},"mark":{"type":"rule","style":"dash"},"encoding":{}},{"data":{"name":"fr"},"mark":{"type":"text","text":"//","style":"bk"},"encoding":{"y":{"datum":1500}}}]},

{"height":58,"title":{"text":"Abundance (No. 1000 m⁻³)","orient":"left","anchor":"middle","fontStyle":"normal","fontSize":19,"offset":43},"transform":[{"filter":"datum.q=='A5'"}],"encoding":{"x":{"field":"x","type":"quantitative","scale":{"domain":[0,30],"padding":0}}},"layer":[{"mark":{"type":"bar","fill":"#707070"},"encoding":{"y":{"field":"v","type":"quantitative","scale":{"domain":[0,150,300],"range":[58,29,0]},"axis":{"orient":"right","values":[0,150,300]}}}},{"transform":[{"filter":"datum.e"}],"mark":"rule","encoding":{"y":{"field":"v","type":"quantitative"},"y2":{"field":"e"}}},{"data":{"name":"fr"},"mark":"rule","encoding":{}},{"data":{"name":"ten"},"mark":{"type":"rule","style":"dash"},"encoding":{}}]},
{"width":94,"height":1,"data":{"values":[]},"mark":"point"},
{"height":58,"transform":[{"filter":"datum.q=='B5'"}],"encoding":{"x":{"field":"x","type":"quantitative","scale":{"domain":[0,30],"padding":0}}},"layer":[{"mark":{"type":"bar","fill":"#707070"},"encoding":{"y":{"field":"v","type":"quantitative","scale":{"domain":[0,1500,16500],"range":[58,29,0]},"axis":{"orient":"right","values":[0,1500,16500]}}}},{"transform":[{"filter":"datum.e"}],"mark":"rule","encoding":{"y":{"field":"v","type":"quantitative"},"y2":{"field":"e"}}},{"data":{"name":"fr"},"mark":"rule","encoding":{}},{"data":{"name":"ten"},"mark":{"type":"rule","style":"dash"},"encoding":{}},{"data":{"name":"fr"},"mark":{"type":"text","text":"//","style":"bk"},"encoding":{"y":{"datum":1500}}}]},
{"width":199,"height":58,"data":{"values":[{"t":"150-200"}]},"mark":{"type":"text","style":"dl"},"encoding":{"text":{"field":"t","type":"nominal"}}},
{"height":58,"transform":[{"filter":"datum.q=='C5'"}],"encoding":{"x":{"field":"x","type":"quantitative","scale":{"domain":[0,30],"padding":0}}},"layer":[{"mark":"bar","encoding":{"y":{"field":"v","type":"quantitative","scale":{"domain":[0,150,300],"range":[58,29,0]},"axis":{"orient":"right","values":[0,150,300]}}}},{"transform":[{"filter":"datum.e"}],"mark":"rule","encoding":{"y":{"field":"v","type":"quantitative"},"y2":{"field":"e"}}},{"data":{"name":"fr"},"mark":"rule","encoding":{}},{"data":{"name":"ten"},"mark":{"type":"rule","style":"dash"},"encoding":{}}]},
{"width":104,"height":1,"data":{"values":[]},"mark":"point"},
{"height":58,"transform":[{"filter":"datum.q=='D5'"}],"encoding":{"x":{"field":"x","type":"quantitative","scale":{"domain":[0,30],"padding":0}}},"layer":[{"mark":"bar","encoding":{"y":{"field":"v","type":"quantitative","scale":{"domain":[0,1500,12000],"range":[58,29,0]},"axis":{"orient":"right","values":[0,1500,12000]}}}},{"transform":[{"filter":"datum.e"}],"mark":"rule","encoding":{"y":{"field":"v","type":"quantitative"},"y2":{"field":"e"}}},{"data":{"name":"fr"},"mark":"rule","encoding":{}},{"data":{"name":"ten"},"mark":{"type":"rule","style":"dash"},"encoding":{}},{"transform":[{"filter":"datum.c"}],"mark":{"type":"tick","orient":"horizontal"},"encoding":{"y":{"field":"c","type":"quantitative"}}},{"data":{"name":"fr"},"mark":{"type":"text","text":"//","style":"bk"},"encoding":{"y":{"datum":1500}}}]},

{"height":57,"transform":[{"filter":"datum.q=='A6'"}],"encoding":{"x":{"field":"x","type":"quantitative","scale":{"domain":[0,30],"padding":0}}},"layer":[{"mark":{"type":"bar","fill":"#707070"},"encoding":{"y":{"field":"v","type":"quantitative","scale":{"domain":[0,150,300],"range":[57,28.5,0]},"axis":{"values":[0,150,300]}}}},{"transform":[{"filter":"datum.e"}],"mark":"rule","encoding":{"y":{"field":"v","type":"quantitative"},"y2":{"field":"e"}}},{"data":{"name":"fr"},"mark":"rule","encoding":{}},{"data":{"name":"ten"},"mark":{"type":"rule","style":"dash"},"encoding":{}}]},
{"width":94,"height":1,"data":{"values":[]},"mark":"point"},
{"height":57,"transform":[{"filter":"datum.q=='B6'"}],"encoding":{"x":{"field":"x","type":"quantitative","scale":{"domain":[0,30],"padding":0}}},"layer":[{"mark":{"type":"bar","fill":"#707070"},"encoding":{"y":{"field":"v","type":"quantitative","scale":{"domain":[0,1500,12000],"range":[57,28.5,0]},"axis":{"values":[0,1500,12000]}}}},{"transform":[{"filter":"datum.e"}],"mark":"rule","encoding":{"y":{"field":"v","type":"quantitative"},"y2":{"field":"e"}}},{"data":{"name":"fr"},"mark":"rule","encoding":{}},{"data":{"name":"ten"},"mark":{"type":"rule","style":"dash"},"encoding":{}},{"data":{"name":"fr"},"mark":{"type":"text","text":"//","style":"bk"},"encoding":{"y":{"datum":1500}}}]},
{"width":199,"height":57,"data":{"values":[{"t":"200-250"}]},"mark":{"type":"text","style":"dl"},"encoding":{"text":{"field":"t","type":"nominal"}}},
{"height":57,"transform":[{"filter":"datum.q=='C6'"}],"encoding":{"x":{"field":"x","type":"quantitative","scale":{"domain":[0,30],"padding":0}}},"layer":[{"mark":"bar","encoding":{"y":{"field":"v","type":"quantitative","scale":{"domain":[0,150,1500],"range":[57,28.5,0]},"axis":{"values":[0,150,1500]}}}},{"transform":[{"filter":"datum.e"}],"mark":"rule","encoding":{"y":{"field":"v","type":"quantitative"},"y2":{"field":"e"}}},{"data":{"name":"fr"},"mark":"rule","encoding":{}},{"data":{"name":"ten"},"mark":{"type":"rule","style":"dash"},"encoding":{}},{"data":{"name":"fr"},"mark":{"type":"text","text":"//","style":"bk"},"encoding":{"y":{"datum":150}}}]},
{"width":104,"height":1,"data":{"values":[]},"mark":"point"},
{"height":57,"transform":[{"filter":"datum.q=='D6'"}],"encoding":{"x":{"field":"x","type":"quantitative","scale":{"domain":[0,30],"padding":0}}},"layer":[{"mark":"bar","encoding":{"y":{"field":"v","type":"quantitative","scale":{"domain":[0,1500,13500],"range":[57,28.5,0]},"axis":{"values":[0,1500,13500]}}}},{"transform":[{"filter":"datum.e"}],"mark":"rule","encoding":{"y":{"field":"v","type":"quantitative"},"y2":{"field":"e"}}},{"data":{"name":"fr"},"mark":"rule","encoding":{}},{"data":{"name":"ten"},"mark":{"type":"rule","style":"dash"},"encoding":{}},{"data":{"name":"fr"},"mark":{"type":"text","text":"//","style":"bk"},"encoding":{"y":{"datum":1500}}}]},

{"height":56,"transform":[{"filter":"datum.q=='A7'"}],"encoding":{"x":{"field":"x","type":"quantitative","scale":{"domain":[0,30],"padding":0}}},"layer":[{"mark":{"type":"bar","fill":"#707070"},"encoding":{"y":{"field":"v","type":"quantitative","scale":{"domain":[0,150,300],"range":[56,28,0]},"axis":{"orient":"right","values":[0,150,300]}}}},{"transform":[{"filter":"datum.e"}],"mark":"rule","encoding":{"y":{"field":"v","type":"quantitative"},"y2":{"field":"e"}}},{"data":{"name":"fr"},"mark":"rule","encoding":{}},{"data":{"name":"ten"},"mark":{"type":"rule","style":"dash"},"encoding":{}}]},
{"width":94,"height":1,"data":{"values":[]},"mark":"point"},
{"height":56,"transform":[{"filter":"datum.q=='B7'"}],"encoding":{"x":{"field":"x","type":"quantitative","scale":{"domain":[0,30],"padding":0}}},"layer":[{"mark":{"type":"bar","fill":"#707070"},"encoding":{"y":{"field":"v","type":"quantitative","scale":{"domain":[0,1500,6000],"range":[56,28,0]},"axis":{"orient":"right","values":[0,1500,6000]}}}},{"transform":[{"filter":"datum.e"}],"mark":"rule","encoding":{"y":{"field":"v","type":"quantitative"},"y2":{"field":"e"}}},{"data":{"name":"fr"},"mark":"rule","encoding":{}},{"data":{"name":"ten"},"mark":{"type":"rule","style":"dash"},"encoding":{}},{"data":{"name":"fr"},"mark":{"type":"text","text":"//","style":"bk"},"encoding":{"y":{"datum":1500}}}]},
{"width":199,"height":56,"data":{"values":[{"t":"250-300"}]},"mark":{"type":"text","style":"dl"},"encoding":{"text":{"field":"t","type":"nominal"}}},
{"height":56,"transform":[{"filter":"datum.q=='C7'"}],"encoding":{"x":{"field":"x","type":"quantitative","scale":{"domain":[0,30],"padding":0}}},"layer":[{"mark":"bar","encoding":{"y":{"field":"v","type":"quantitative","scale":{"domain":[0,150,300],"range":[56,28,0]},"axis":{"orient":"right","values":[0,150,300]}}}},{"transform":[{"filter":"datum.e"}],"mark":"rule","encoding":{"y":{"field":"v","type":"quantitative"},"y2":{"field":"e"}}},{"data":{"name":"fr"},"mark":"rule","encoding":{}},{"data":{"name":"ten"},"mark":{"type":"rule","style":"dash"},"encoding":{}}]},
{"width":104,"height":1,"data":{"values":[]},"mark":"point"},
{"height":56,"transform":[{"filter":"datum.q=='D7'"}],"encoding":{"x":{"field":"x","type":"quantitative","scale":{"domain":[0,30],"padding":0}}},"layer":[{"mark":"bar","encoding":{"y":{"field":"v","type":"quantitative","scale":{"domain":[0,1500,6000],"range":[56,28,0]},"axis":{"orient":"right","values":[0,1500,6000]}}}},{"transform":[{"filter":"datum.e"}],"mark":"rule","encoding":{"y":{"field":"v","type":"quantitative"},"y2":{"field":"e"}}},{"data":{"name":"fr"},"mark":"rule","encoding":{}},{"data":{"name":"ten"},"mark":{"type":"rule","style":"dash"},"encoding":{}},{"data":{"name":"fr"},"mark":{"type":"text","text":"//","style":"bk"},"encoding":{"y":{"datum":1500}}}]},

{"height":57,"transform":[{"filter":"datum.q=='A8'"}],"encoding":{"x":{"field":"x","type":"quantitative","scale":{"domain":[0,30],"padding":0}}},"layer":[{"mark":{"type":"bar","fill":"#707070"},"encoding":{"y":{"field":"v","type":"quantitative","scale":{"domain":[0,150,300],"range":[57,28.5,0]},"axis":{"values":[0,150,300]}}}},{"transform":[{"filter":"datum.e"}],"mark":"rule","encoding":{"y":{"field":"v","type":"quantitative"},"y2":{"field":"e"}}},{"data":{"name":"fr"},"mark":"rule","encoding":{}},{"data":{"name":"ten"},"mark":{"type":"rule","style":"dash"},"encoding":{}}]},
{"width":94,"height":1,"data":{"values":[]},"mark":"point"},
{"height":57,"transform":[{"filter":"datum.q=='B8'"}],"encoding":{"x":{"field":"x","type":"quantitative","scale":{"domain":[0,30],"padding":0}}},"layer":[{"mark":{"type":"bar","fill":"#707070"},"encoding":{"y":{"field":"v","type":"quantitative","scale":{"domain":[0,1500,3000],"range":[57,28.5,0]},"axis":{"values":[0,1500,3000]}}}},{"transform":[{"filter":"datum.e"}],"mark":"rule","encoding":{"y":{"field":"v","type":"quantitative"},"y2":{"field":"e"}}},{"data":{"name":"fr"},"mark":"rule","encoding":{}},{"data":{"name":"ten"},"mark":{"type":"rule","style":"dash"},"encoding":{}}]},
{"width":199,"height":57,"data":{"values":[{"t":"300-350"}]},"mark":{"type":"text","style":"dl"},"encoding":{"text":{"field":"t","type":"nominal"}}},
{"height":57,"transform":[{"filter":"datum.q=='C8'"}],"encoding":{"x":{"field":"x","type":"quantitative","scale":{"domain":[0,30],"padding":0}}},"layer":[{"mark":"bar","encoding":{"y":{"field":"v","type":"quantitative","scale":{"domain":[0,150,600],"range":[57,28.5,0]},"axis":{"values":[0,150,600]}}}},{"transform":[{"filter":"datum.e"}],"mark":"rule","encoding":{"y":{"field":"v","type":"quantitative"},"y2":{"field":"e"}}},{"data":{"name":"fr"},"mark":"rule","encoding":{}},{"data":{"name":"ten"},"mark":{"type":"rule","style":"dash"},"encoding":{}},{"data":{"name":"fr"},"mark":{"type":"text","text":"//","style":"bk"},"encoding":{"y":{"datum":150}}}]},
{"width":104,"height":1,"data":{"values":[]},"mark":"point"},
{"height":57,"transform":[{"filter":"datum.q=='D8'"}],"encoding":{"x":{"field":"x","type":"quantitative","scale":{"domain":[0,30],"padding":0}}},"layer":[{"mark":"bar","encoding":{"y":{"field":"v","type":"quantitative","scale":{"domain":[0,1500,3000],"range":[57,28.5,0]},"axis":{"values":[0,1500,3000]}}}},{"transform":[{"filter":"datum.e"}],"mark":"rule","encoding":{"y":{"field":"v","type":"quantitative"},"y2":{"field":"e"}}},{"data":{"name":"fr"},"mark":"rule","encoding":{}},{"data":{"name":"ten"},"mark":{"type":"rule","style":"dash"},"encoding":{}}]},

{"width":1,"height":100,"data":{"values":[]},"mark":"point"},
{"width":1,"height":1,"data":{"values":[]},"mark":"point"},
{"width":1,"height":1,"data":{"values":[]},"mark":"point"},
{"width":1,"height":1,"data":{"values":[]},"mark":"point"},
{"width":1,"height":1,"data":{"values":[]},"mark":"point"},
{"width":1,"height":1,"data":{"values":[]},"mark":"point"},
{"width":1,"height":1,"data":{"values":[]},"mark":"point"},

{"height":28,"view":{"stroke":"#aaa"},"title":{"text":"T. spinifera","dx":65,"offset":0},"transform":[{"filter":"datum.q=='E0'"}],"encoding":{"x":{"field":"x","type":"quantitative","scale":{"domain":[0,30],"padding":0}}},"layer":[{"mark":{"type":"bar","fill":"#707070"},"encoding":{"y":{"field":"v","type":"quantitative","scale":{"domain":[0,150,300],"range":[28,14,0]},"axis":{"values":[0,150,300]}}}},{"transform":[{"filter":"datum.e"}],"mark":"rule","encoding":{"y":{"field":"v","type":"quantitative"},"y2":{"field":"e"}}},{"data":{"name":"fr"},"mark":"rule","encoding":{}},{"data":{"name":"ten"},"mark":{"type":"rule","style":"dash"},"encoding":{}}]},
{"width":94,"height":1,"data":{"values":[]},"mark":"point"},
{"height":28,"view":{"stroke":"#aaa"},"title":{"text":"E. pacifica","dx":69,"offset":0},"transform":[{"filter":"datum.q=='F0'"}],"encoding":{"x":{"field":"x","type":"quantitative","scale":{"domain":[0,30],"padding":0}}},"layer":[{"mark":{"type":"bar","fill":"#707070"},"encoding":{"y":{"field":"v","type":"quantitative","scale":{"domain":[0,1500,60000],"range":[28,14,0]},"axis":{"values":[0,1500,60000]}}}},{"transform":[{"filter":"datum.e"}],"mark":"rule","encoding":{"y":{"field":"v","type":"quantitative"},"y2":{"field":"e"}}},{"data":{"name":"fr"},"mark":"rule","encoding":{}},{"data":{"name":"ten"},"mark":{"type":"rule","style":"dash"},"encoding":{}},{"transform":[{"filter":"datum.c"}],"mark":{"type":"tick","orient":"horizontal"},"encoding":{"y":{"field":"c","type":"quantitative"}}},{"data":{"name":"fr"},"mark":{"type":"text","text":"//","style":"bk"},"encoding":{"y":{"datum":1500}}}]},
{"width":199,"height":28,"title":{"text":"Depth (m)","anchor":"middle","fontStyle":"normal","fontSize":19,"offset":28},"data":{"values":[{"t":"0-25"}]},"mark":{"type":"text","style":"dl"},"encoding":{"text":{"field":"t","type":"nominal"}}},
{"height":28,"view":{"stroke":"#aaa"},"title":{"text":"T. spinifera","dx":65,"offset":0},"transform":[{"filter":"datum.q=='G0'"}],"encoding":{"x":{"field":"x","type":"quantitative","scale":{"domain":[0,30],"padding":0}}},"layer":[{"mark":"bar","encoding":{"y":{"field":"v","type":"quantitative","scale":{"domain":[0,150,900],"range":[28,14,0]},"axis":{"values":[0,150,900]}}}},{"transform":[{"filter":"datum.e"}],"mark":"rule","encoding":{"y":{"field":"v","type":"quantitative"},"y2":{"field":"e"}}},{"data":{"name":"fr"},"mark":"rule","encoding":{}},{"data":{"name":"ten"},"mark":{"type":"rule","style":"dash"},"encoding":{}},{"data":{"name":"fr"},"mark":{"type":"text","text":"//","style":"bk"},"encoding":{"y":{"datum":150}}}]},
{"width":104,"height":1,"data":{"values":[]},"mark":"point"},
{"height":28,"view":{"stroke":"#aaa"},"title":{"text":"E. pacifica","dx":69,"offset":0},"transform":[{"filter":"datum.q=='H0'"}],"encoding":{"x":{"field":"x","type":"quantitative","scale":{"domain":[0,30],"padding":0}}},"layer":[{"mark":"bar","encoding":{"y":{"field":"v","type":"quantitative","scale":{"domain":[0,1500,16500],"range":[28,14,0]},"axis":{"values":[0,1500,16500]}}}},{"transform":[{"filter":"datum.e"}],"mark":"rule","encoding":{"y":{"field":"v","type":"quantitative"},"y2":{"field":"e"}}},{"data":{"name":"fr"},"mark":"rule","encoding":{}},{"data":{"name":"ten"},"mark":{"type":"rule","style":"dash"},"encoding":{}},{"transform":[{"filter":"datum.c"}],"mark":{"type":"tick","orient":"horizontal"},"encoding":{"y":{"field":"c","type":"quantitative"}}},{"data":{"name":"fr"},"mark":{"type":"text","text":"//","style":"bk"},"encoding":{"y":{"datum":1500}}}]},

{"height":29,"title":{"text":"(E)","fontStyle":"normal","fontWeight":"bold","dx":21,"offset":26},"transform":[{"filter":"datum.q=='E1'"}],"encoding":{"x":{"field":"x","type":"quantitative","scale":{"domain":[0,30],"padding":0}}},"layer":[{"mark":{"type":"bar","fill":"#707070"},"encoding":{"y":{"field":"v","type":"quantitative","scale":{"domain":[0,150,2900],"range":[29,14.5,0]},"axis":{"orient":"right","values":[0,150,2900]}}}},{"transform":[{"filter":"datum.e"}],"mark":"rule","encoding":{"y":{"field":"v","type":"quantitative"},"y2":{"field":"e"}}},{"data":{"name":"fr"},"mark":"rule","encoding":{}},{"data":{"name":"ten"},"mark":{"type":"rule","style":"dash"},"encoding":{}},{"transform":[{"filter":"datum.c"}],"mark":{"type":"tick","orient":"horizontal"},"encoding":{"y":{"field":"c","type":"quantitative"}}},{"data":{"name":"fr"},"mark":{"type":"text","text":"//","style":"bk"},"encoding":{"y":{"datum":150}}}]},
{"width":94,"height":1,"data":{"values":[]},"mark":"point"},
{"height":29,"title":{"text":"(F)","fontStyle":"normal","fontWeight":"bold","dx":26,"offset":26},"transform":[{"filter":"datum.q=='F1'"}],"encoding":{"x":{"field":"x","type":"quantitative","scale":{"domain":[0,30],"padding":0}}},"layer":[{"mark":{"type":"bar","fill":"#707070"},"encoding":{"y":{"field":"v","type":"quantitative","scale":{"domain":[0,1500,21000],"range":[29,14.5,0]},"axis":{"orient":"right","values":[0,1500,21000]}}}},{"transform":[{"filter":"datum.e"}],"mark":"rule","encoding":{"y":{"field":"v","type":"quantitative"},"y2":{"field":"e"}}},{"data":{"name":"fr"},"mark":"rule","encoding":{}},{"data":{"name":"ten"},"mark":{"type":"rule","style":"dash"},"encoding":{}},{"transform":[{"filter":"datum.c"}],"mark":{"type":"tick","orient":"horizontal"},"encoding":{"y":{"field":"c","type":"quantitative"}}},{"data":{"name":"fr"},"mark":{"type":"text","text":"//","style":"bk"},"encoding":{"y":{"datum":1500}}}]},
{"width":199,"height":29,"data":{"values":[{"t":"25-50"}]},"mark":{"type":"text","style":"dl"},"encoding":{"text":{"field":"t","type":"nominal"}}},
{"height":29,"title":{"text":"(G)","fontStyle":"normal","fontWeight":"bold","dx":20,"offset":26},"transform":[{"filter":"datum.q=='G1'"}],"encoding":{"x":{"field":"x","type":"quantitative","scale":{"domain":[0,30],"padding":0}}},"layer":[{"mark":"bar","encoding":{"y":{"field":"v","type":"quantitative","scale":{"domain":[0,150,1500],"range":[29,14.5,0]},"axis":{"orient":"right","values":[0,150,1500]}}}},{"transform":[{"filter":"datum.e"}],"mark":"rule","encoding":{"y":{"field":"v","type":"quantitative"},"y2":{"field":"e"}}},{"data":{"name":"fr"},"mark":"rule","encoding":{}},{"data":{"name":"ten"},"mark":{"type":"rule","style":"dash"},"encoding":{}},{"transform":[{"filter":"datum.c"}],"mark":{"type":"tick","orient":"horizontal"},"encoding":{"y":{"field":"c","type":"quantitative"}}},{"data":{"name":"fr"},"mark":{"type":"text","text":"//","style":"bk"},"encoding":{"y":{"datum":150}}}]},
{"width":104,"height":1,"data":{"values":[]},"mark":"point"},
{"height":29,"title":{"text":"(H)","fontStyle":"normal","fontWeight":"bold","dx":24,"offset":26},"transform":[{"filter":"datum.q=='H1'"}],"encoding":{"x":{"field":"x","type":"quantitative","scale":{"domain":[0,30],"padding":0}}},"layer":[{"mark":"bar","encoding":{"y":{"field":"v","type":"quantitative","scale":{"domain":[0,1500,42000],"range":[29,14.5,0]},"axis":{"orient":"right","values":[0,1500,42000]}}}},{"transform":[{"filter":"datum.e"}],"mark":"rule","encoding":{"y":{"field":"v","type":"quantitative"},"y2":{"field":"e"}}},{"data":{"name":"fr"},"mark":"rule","encoding":{}},{"data":{"name":"ten"},"mark":{"type":"rule","style":"dash"},"encoding":{}},{"transform":[{"filter":"datum.c"}],"mark":{"type":"tick","orient":"horizontal"},"encoding":{"y":{"field":"c","type":"quantitative"}}},{"data":{"name":"fr"},"mark":{"type":"text","text":"//","style":"bk"},"encoding":{"y":{"datum":1500}}}]},

{"height":28,"title":{"text":"2014 Night","fontSize":27,"dx":193,"offset":69.5},"transform":[{"filter":"datum.q=='E2'"}],"encoding":{"x":{"field":"x","type":"quantitative","scale":{"domain":[0,30],"padding":0}}},"layer":[{"mark":{"type":"bar","fill":"#707070"},"encoding":{"y":{"field":"v","type":"quantitative","scale":{"domain":[0,150,2300],"range":[28,14,0]},"axis":{"values":[0,150,2300]}}}},{"transform":[{"filter":"datum.e"}],"mark":"rule","encoding":{"y":{"field":"v","type":"quantitative"},"y2":{"field":"e"}}},{"data":{"name":"fr"},"mark":"rule","encoding":{}},{"data":{"name":"ten"},"mark":{"type":"rule","style":"dash"},"encoding":{}},{"transform":[{"filter":"datum.c"}],"mark":{"type":"tick","orient":"horizontal"},"encoding":{"y":{"field":"c","type":"quantitative"}}},{"data":{"name":"fr"},"mark":{"type":"text","text":"//","style":"bk"},"encoding":{"y":{"datum":150}}}]},
{"width":94,"height":1,"data":{"values":[]},"mark":"point"},
{"height":28,"transform":[{"filter":"datum.q=='F2'"}],"encoding":{"x":{"field":"x","type":"quantitative","scale":{"domain":[0,30],"padding":0}}},"layer":[{"mark":{"type":"bar","fill":"#707070"},"encoding":{"y":{"field":"v","type":"quantitative","scale":{"domain":[0,1500,9000],"range":[28,14,0]},"axis":{"values":[0,1500,9000]}}}},{"transform":[{"filter":"datum.e"}],"mark":"rule","encoding":{"y":{"field":"v","type":"quantitative"},"y2":{"field":"e"}}},{"data":{"name":"fr"},"mark":"rule","encoding":{}},{"data":{"name":"ten"},"mark":{"type":"rule","style":"dash"},"encoding":{}},{"data":{"name":"fr"},"mark":{"type":"text","text":"//","style":"bk"},"encoding":{"y":{"datum":1500}}}]},
{"width":199,"height":28,"data":{"values":[{"t":"50-75"}]},"mark":{"type":"text","style":"dl"},"encoding":{"text":{"field":"t","type":"nominal"}}},
{"height":28,"title":{"text":"2015 Night","fontSize":27,"dx":201,"offset":69.5},"transform":[{"filter":"datum.q=='G2'"}],"encoding":{"x":{"field":"x","type":"quantitative","scale":{"domain":[0,30],"padding":0}}},"layer":[{"mark":"bar","encoding":{"y":{"field":"v","type":"quantitative","scale":{"domain":[0,150,1350],"range":[28,14,0]},"axis":{"values":[0,150,1350]}}}},{"transform":[{"filter":"datum.e"}],"mark":"rule","encoding":{"y":{"field":"v","type":"quantitative"},"y2":{"field":"e"}}},{"data":{"name":"fr"},"mark":"rule","encoding":{}},{"data":{"name":"ten"},"mark":{"type":"rule","style":"dash"},"encoding":{}},{"transform":[{"filter":"datum.c"}],"mark":{"type":"tick","orient":"horizontal"},"encoding":{"y":{"field":"c","type":"quantitative"}}},{"data":{"name":"fr"},"mark":{"type":"text","text":"//","style":"bk"},"encoding":{"y":{"datum":150}}}]},
{"width":104,"height":1,"data":{"values":[]},"mark":"point"},
{"height":28,"transform":[{"filter":"datum.q=='H2'"}],"encoding":{"x":{"field":"x","type":"quantitative","scale":{"domain":[0,30],"padding":0}}},"layer":[{"mark":"bar","encoding":{"y":{"field":"v","type":"quantitative","scale":{"domain":[0,1500,16500],"range":[28,14,0]},"axis":{"values":[0,1500,16500]}}}},{"transform":[{"filter":"datum.e"}],"mark":"rule","encoding":{"y":{"field":"v","type":"quantitative"},"y2":{"field":"e"}}},{"data":{"name":"fr"},"mark":"rule","encoding":{}},{"data":{"name":"ten"},"mark":{"type":"rule","style":"dash"},"encoding":{}},{"data":{"name":"fr"},"mark":{"type":"text","text":"//","style":"bk"},"encoding":{"y":{"datum":1500}}}]},

{"height":29,"transform":[{"filter":"datum.q=='E3'"}],"encoding":{"x":{"field":"x","type":"quantitative","scale":{"domain":[0,30],"padding":0}}},"layer":[{"mark":{"type":"bar","fill":"#707070"},"encoding":{"y":{"field":"v","type":"quantitative","scale":{"domain":[0,150,1100],"range":[29,14.5,0]},"axis":{"orient":"right","values":[0,150,1100]}}}},{"transform":[{"filter":"datum.e"}],"mark":"rule","encoding":{"y":{"field":"v","type":"quantitative"},"y2":{"field":"e"}}},{"data":{"name":"fr"},"mark":"rule","encoding":{}},{"data":{"name":"ten"},"mark":{"type":"rule","style":"dash"},"encoding":{}},{"data":{"name":"fr"},"mark":{"type":"text","text":"//","style":"bk"},"encoding":{"y":{"datum":150}}}]},
{"width":94,"height":1,"data":{"values":[]},"mark":"point"},
{"height":29,"transform":[{"filter":"datum.q=='F3'"}],"encoding":{"x":{"field":"x","type":"quantitative","scale":{"domain":[0,30],"padding":0}}},"layer":[{"mark":{"type":"bar","fill":"#707070"},"encoding":{"y":{"field":"v","type":"quantitative","scale":{"domain":[0,1500,6000],"range":[29,14.5,0]},"axis":{"orient":"right","values":[0,1500,6000]}}}},{"transform":[{"filter":"datum.e"}],"mark":"rule","encoding":{"y":{"field":"v","type":"quantitative"},"y2":{"field":"e"}}},{"data":{"name":"fr"},"mark":"rule","encoding":{}},{"data":{"name":"ten"},"mark":{"type":"rule","style":"dash"},"encoding":{}},{"data":{"name":"fr"},"mark":{"type":"text","text":"//","style":"bk"},"encoding":{"y":{"datum":1500}}}]},
{"width":199,"height":29,"data":{"values":[{"t":"75-100"}]},"mark":{"type":"text","style":"dl"},"encoding":{"text":{"field":"t","type":"nominal"}}},
{"height":29,"transform":[{"filter":"datum.q=='G3'"}],"encoding":{"x":{"field":"x","type":"quantitative","scale":{"domain":[0,30],"padding":0}}},"layer":[{"mark":"bar","encoding":{"y":{"field":"v","type":"quantitative","scale":{"domain":[0,150,1500],"range":[29,14.5,0]},"axis":{"orient":"right","values":[0,150,1500]}}}},{"transform":[{"filter":"datum.e"}],"mark":"rule","encoding":{"y":{"field":"v","type":"quantitative"},"y2":{"field":"e"}}},{"data":{"name":"fr"},"mark":"rule","encoding":{}},{"data":{"name":"ten"},"mark":{"type":"rule","style":"dash"},"encoding":{}},{"transform":[{"filter":"datum.c"}],"mark":{"type":"tick","orient":"horizontal"},"encoding":{"y":{"field":"c","type":"quantitative"}}},{"data":{"name":"fr"},"mark":{"type":"text","text":"//","style":"bk"},"encoding":{"y":{"datum":150}}}]},
{"width":104,"height":1,"data":{"values":[]},"mark":"point"},
{"height":29,"transform":[{"filter":"datum.q=='H3'"}],"encoding":{"x":{"field":"x","type":"quantitative","scale":{"domain":[0,30],"padding":0}}},"layer":[{"mark":"bar","encoding":{"y":{"field":"v","type":"quantitative","scale":{"domain":[0,1500,9000],"range":[29,14.5,0]},"axis":{"orient":"right","values":[0,1500,9000]}}}},{"transform":[{"filter":"datum.e"}],"mark":"rule","encoding":{"y":{"field":"v","type":"quantitative"},"y2":{"field":"e"}}},{"data":{"name":"fr"},"mark":"rule","encoding":{}},{"data":{"name":"ten"},"mark":{"type":"rule","style":"dash"},"encoding":{}},{"data":{"name":"fr"},"mark":{"type":"text","text":"//","style":"bk"},"encoding":{"y":{"datum":1500}}}]},

{"height":58,"transform":[{"filter":"datum.q=='E4'"}],"encoding":{"x":{"field":"x","type":"quantitative","scale":{"domain":[0,30],"padding":0}}},"layer":[{"mark":{"type":"bar","fill":"#707070"},"encoding":{"y":{"field":"v","type":"quantitative","scale":{"domain":[0,150,300],"range":[58,29,0]},"axis":{"values":[0,150,300]}}}},{"transform":[{"filter":"datum.e"}],"mark":"rule","encoding":{"y":{"field":"v","type":"quantitative"},"y2":{"field":"e"}}},{"data":{"name":"fr"},"mark":"rule","encoding":{}},{"data":{"name":"ten"},"mark":{"type":"rule","style":"dash"},"encoding":{}}]},
{"width":94,"height":1,"data":{"values":[]},"mark":"point"},
{"height":58,"transform":[{"filter":"datum.q=='F4'"}],"encoding":{"x":{"field":"x","type":"quantitative","scale":{"domain":[0,30],"padding":0}}},"layer":[{"mark":{"type":"bar","fill":"#707070"},"encoding":{"y":{"field":"v","type":"quantitative","scale":{"domain":[0,1500,3000],"range":[58,29,0]},"axis":{"values":[0,1500,3000]}}}},{"transform":[{"filter":"datum.e"}],"mark":"rule","encoding":{"y":{"field":"v","type":"quantitative"},"y2":{"field":"e"}}},{"data":{"name":"fr"},"mark":"rule","encoding":{}},{"data":{"name":"ten"},"mark":{"type":"rule","style":"dash"},"encoding":{}}]},
{"width":199,"height":58,"data":{"values":[{"t":"100-150"}]},"mark":{"type":"text","style":"dl"},"encoding":{"text":{"field":"t","type":"nominal"}}},
{"height":58,"transform":[{"filter":"datum.q=='G4'"}],"encoding":{"x":{"field":"x","type":"quantitative","scale":{"domain":[0,30],"padding":0}}},"layer":[{"mark":"bar","encoding":{"y":{"field":"v","type":"quantitative","scale":{"domain":[0,150,450],"range":[58,29,0]},"axis":{"values":[0,150,450]}}}},{"transform":[{"filter":"datum.e"}],"mark":"rule","encoding":{"y":{"field":"v","type":"quantitative"},"y2":{"field":"e"}}},{"data":{"name":"fr"},"mark":"rule","encoding":{}},{"data":{"name":"ten"},"mark":{"type":"rule","style":"dash"},"encoding":{}},{"data":{"name":"fr"},"mark":{"type":"text","text":"//","style":"bk"},"encoding":{"y":{"datum":150}}}]},
{"width":104,"height":1,"data":{"values":[]},"mark":"point"},
{"height":58,"transform":[{"filter":"datum.q=='H4'"}],"encoding":{"x":{"field":"x","type":"quantitative","scale":{"domain":[0,30],"padding":0}}},"layer":[{"mark":"bar","encoding":{"y":{"field":"v","type":"quantitative","scale":{"domain":[0,1500,12000],"range":[58,29,0]},"axis":{"values":[0,1500,12000]}}}},{"transform":[{"filter":"datum.e"}],"mark":"rule","encoding":{"y":{"field":"v","type":"quantitative"},"y2":{"field":"e"}}},{"data":{"name":"fr"},"mark":"rule","encoding":{}},{"data":{"name":"ten"},"mark":{"type":"rule","style":"dash"},"encoding":{}},{"data":{"name":"fr"},"mark":{"type":"text","text":"//","style":"bk"},"encoding":{"y":{"datum":1500}}}]},

{"height":58,"title":{"text":"Abundance (No. 1000 m⁻³)","orient":"left","anchor":"middle","fontStyle":"normal","fontSize":19,"offset":43},"transform":[{"filter":"datum.q=='E5'"}],"encoding":{"x":{"field":"x","type":"quantitative","scale":{"domain":[0,30],"padding":0}}},"layer":[{"mark":{"type":"bar","fill":"#707070"},"encoding":{"y":{"field":"v","type":"quantitative","scale":{"domain":[0,150,300],"range":[58,29,0]},"axis":{"orient":"right","values":[0,150,300]}}}},{"transform":[{"filter":"datum.e"}],"mark":"rule","encoding":{"y":{"field":"v","type":"quantitative"},"y2":{"field":"e"}}},{"data":{"name":"fr"},"mark":"rule","encoding":{}},{"data":{"name":"ten"},"mark":{"type":"rule","style":"dash"},"encoding":{}}]},
{"width":94,"height":1,"data":{"values":[]},"mark":"point"},
{"height":58,"transform":[{"filter":"datum.q=='F5'"}],"encoding":{"x":{"field":"x","type":"quantitative","scale":{"domain":[0,30],"padding":0}}},"layer":[{"mark":{"type":"bar","fill":"#707070"},"encoding":{"y":{"field":"v","type":"quantitative","scale":{"domain":[0,1500,3000],"range":[58,29,0]},"axis":{"orient":"right","values":[0,1500,3000]}}}},{"transform":[{"filter":"datum.e"}],"mark":"rule","encoding":{"y":{"field":"v","type":"quantitative"},"y2":{"field":"e"}}},{"data":{"name":"fr"},"mark":"rule","encoding":{}},{"data":{"name":"ten"},"mark":{"type":"rule","style":"dash"},"encoding":{}}]},
{"width":199,"height":58,"data":{"values":[{"t":"150-200"}]},"mark":{"type":"text","style":"dl"},"encoding":{"text":{"field":"t","type":"nominal"}}},
{"height":58,"transform":[{"filter":"datum.q=='G5'"}],"encoding":{"x":{"field":"x","type":"quantitative","scale":{"domain":[0,30],"padding":0}}},"layer":[{"mark":"bar","encoding":{"y":{"field":"v","type":"quantitative","scale":{"domain":[0,150,300],"range":[58,29,0]},"axis":{"orient":"right","values":[0,150,300]}}}},{"transform":[{"filter":"datum.e"}],"mark":"rule","encoding":{"y":{"field":"v","type":"quantitative"},"y2":{"field":"e"}}},{"data":{"name":"fr"},"mark":"rule","encoding":{}},{"data":{"name":"ten"},"mark":{"type":"rule","style":"dash"},"encoding":{}}]},
{"width":104,"height":1,"data":{"values":[]},"mark":"point"},
{"height":58,"transform":[{"filter":"datum.q=='H5'"}],"encoding":{"x":{"field":"x","type":"quantitative","scale":{"domain":[0,30],"padding":0}}},"layer":[{"mark":"bar","encoding":{"y":{"field":"v","type":"quantitative","scale":{"domain":[0,1500,3000],"range":[58,29,0]},"axis":{"orient":"right","values":[0,1500,3000]}}}},{"transform":[{"filter":"datum.e"}],"mark":"rule","encoding":{"y":{"field":"v","type":"quantitative"},"y2":{"field":"e"}}},{"data":{"name":"fr"},"mark":"rule","encoding":{}},{"data":{"name":"ten"},"mark":{"type":"rule","style":"dash"},"encoding":{}}]},

{"height":57,"transform":[{"filter":"datum.q=='E6'"}],"encoding":{"x":{"field":"x","type":"quantitative","scale":{"domain":[0,30],"padding":0}}},"layer":[{"mark":{"type":"bar","fill":"#707070"},"encoding":{"y":{"field":"v","type":"quantitative","scale":{"domain":[0,150,300],"range":[57,28.5,0]},"axis":{"values":[0,150,300]}}}},{"transform":[{"filter":"datum.e"}],"mark":"rule","encoding":{"y":{"field":"v","type":"quantitative"},"y2":{"field":"e"}}},{"data":{"name":"fr"},"mark":"rule","encoding":{}},{"data":{"name":"ten"},"mark":{"type":"rule","style":"dash"},"encoding":{}}]},
{"width":94,"height":1,"data":{"values":[]},"mark":"point"},
{"height":57,"transform":[{"filter":"datum.q=='F6'"}],"encoding":{"x":{"field":"x","type":"quantitative","scale":{"domain":[0,30],"padding":0}}},"layer":[{"mark":{"type":"bar","fill":"#707070"},"encoding":{"y":{"field":"v","type":"quantitative","scale":{"domain":[0,1500,3000],"range":[57,28.5,0]},"axis":{"values":[0,1500,3000]}}}},{"transform":[{"filter":"datum.e"}],"mark":"rule","encoding":{"y":{"field":"v","type":"quantitative"},"y2":{"field":"e"}}},{"data":{"name":"fr"},"mark":"rule","encoding":{}},{"data":{"name":"ten"},"mark":{"type":"rule","style":"dash"},"encoding":{}}]},
{"width":199,"height":57,"data":{"values":[{"t":"200-250"}]},"mark":{"type":"text","style":"dl"},"encoding":{"text":{"field":"t","type":"nominal"}}},
{"height":57,"transform":[{"filter":"datum.q=='G6'"}],"encoding":{"x":{"field":"x","type":"quantitative","scale":{"domain":[0,30],"padding":0}}},"layer":[{"mark":"bar","encoding":{"y":{"field":"v","type":"quantitative","scale":{"domain":[0,150,300],"range":[57,28.5,0]},"axis":{"values":[0,150,300]}}}},{"transform":[{"filter":"datum.e"}],"mark":"rule","encoding":{"y":{"field":"v","type":"quantitative"},"y2":{"field":"e"}}},{"data":{"name":"fr"},"mark":"rule","encoding":{}},{"data":{"name":"ten"},"mark":{"type":"rule","style":"dash"},"encoding":{}}]},
{"width":104,"height":1,"data":{"values":[]},"mark":"point"},
{"height":57,"transform":[{"filter":"datum.q=='H6'"}],"encoding":{"x":{"field":"x","type":"quantitative","scale":{"domain":[0,30],"padding":0}}},"layer":[{"mark":"bar","encoding":{"y":{"field":"v","type":"quantitative","scale":{"domain":[0,1500,3000],"range":[57,28.5,0]},"axis":{"values":[0,1500,3000]}}}},{"transform":[{"filter":"datum.e"}],"mark":"rule","encoding":{"y":{"field":"v","type":"quantitative"},"y2":{"field":"e"}}},{"data":{"name":"fr"},"mark":"rule","encoding":{}},{"data":{"name":"ten"},"mark":{"type":"rule","style":"dash"},"encoding":{}}]},

{"height":56,"transform":[{"filter":"datum.q=='E7'"}],"encoding":{"x":{"field":"x","type":"quantitative","scale":{"domain":[0,30],"padding":0}}},"layer":[{"mark":{"type":"bar","fill":"#707070"},"encoding":{"y":{"field":"v","type":"quantitative","scale":{"domain":[0,150,300],"range":[56,28,0]},"axis":{"orient":"right","values":[0,150,300]}}}},{"transform":[{"filter":"datum.e"}],"mark":"rule","encoding":{"y":{"field":"v","type":"quantitative"},"y2":{"field":"e"}}},{"data":{"name":"fr"},"mark":"rule","encoding":{}},{"data":{"name":"ten"},"mark":{"type":"rule","style":"dash"},"encoding":{}}]},
{"width":94,"height":1,"data":{"values":[]},"mark":"point"},
{"height":56,"transform":[{"filter":"datum.q=='F7'"}],"encoding":{"x":{"field":"x","type":"quantitative","scale":{"domain":[0,30],"padding":0}}},"layer":[{"mark":{"type":"bar","fill":"#707070"},"encoding":{"y":{"field":"v","type":"quantitative","scale":{"domain":[0,1500,3000],"range":[56,28,0]},"axis":{"orient":"right","values":[0,1500,3000]}}}},{"transform":[{"filter":"datum.e"}],"mark":"rule","encoding":{"y":{"field":"v","type":"quantitative"},"y2":{"field":"e"}}},{"data":{"name":"fr"},"mark":"rule","encoding":{}},{"data":{"name":"ten"},"mark":{"type":"rule","style":"dash"},"encoding":{}}]},
{"width":199,"height":56,"data":{"values":[{"t":"250-300"}]},"mark":{"type":"text","style":"dl"},"encoding":{"text":{"field":"t","type":"nominal"}}},
{"height":56,"transform":[{"filter":"datum.q=='G7'"}],"encoding":{"x":{"field":"x","type":"quantitative","scale":{"domain":[0,30],"padding":0}}},"layer":[{"mark":"bar","encoding":{"y":{"field":"v","type":"quantitative","scale":{"domain":[0,150,300],"range":[56,28,0]},"axis":{"orient":"right","values":[0,150,300]}}}},{"transform":[{"filter":"datum.e"}],"mark":"rule","encoding":{"y":{"field":"v","type":"quantitative"},"y2":{"field":"e"}}},{"data":{"name":"fr"},"mark":"rule","encoding":{}},{"data":{"name":"ten"},"mark":{"type":"rule","style":"dash"},"encoding":{}}]},
{"width":104,"height":1,"data":{"values":[]},"mark":"point"},
{"height":56,"transform":[{"filter":"datum.q=='H7'"}],"encoding":{"x":{"field":"x","type":"quantitative","scale":{"domain":[0,30],"padding":0}}},"layer":[{"mark":"bar","encoding":{"y":{"field":"v","type":"quantitative","scale":{"domain":[0,1500,3000],"range":[56,28,0]},"axis":{"orient":"right","values":[0,1500,3000]}}}},{"transform":[{"filter":"datum.e"}],"mark":"rule","encoding":{"y":{"field":"v","type":"quantitative"},"y2":{"field":"e"}}},{"data":{"name":"fr"},"mark":"rule","encoding":{}},{"data":{"name":"ten"},"mark":{"type":"rule","style":"dash"},"encoding":{}}]},

{"height":57,"transform":[{"filter":"datum.q=='E8'"}],"encoding":{"x":{"field":"x","type":"quantitative","scale":{"domain":[0,30],"padding":0},"axis":{"labels":true,"titleOpacity":1,"title":"Total Length (mm)"}}},"layer":[{"mark":{"type":"bar","fill":"#707070"},"encoding":{"y":{"field":"v","type":"quantitative","scale":{"domain":[0,150,300],"range":[57,28.5,0]},"axis":{"values":[0,150,300]}}}},{"transform":[{"filter":"datum.e"}],"mark":"rule","encoding":{"y":{"field":"v","type":"quantitative"},"y2":{"field":"e"}}},{"data":{"name":"fr"},"mark":"rule","encoding":{}},{"data":{"name":"ten"},"mark":{"type":"rule","style":"dash"},"encoding":{}}]},
{"width":94,"height":1,"data":{"values":[]},"mark":"point"},
{"height":57,"transform":[{"filter":"datum.q=='F8'"}],"encoding":{"x":{"field":"x","type":"quantitative","scale":{"domain":[0,30],"padding":0},"axis":{"labels":true,"titleOpacity":1,"title":"Total Length (mm)"}}},"layer":[{"mark":{"type":"bar","fill":"#707070"},"encoding":{"y":{"field":"v","type":"quantitative","scale":{"domain":[0,1500,3000],"range":[57,28.5,0]},"axis":{"values":[0,1500,3000]}}}},{"transform":[{"filter":"datum.e"}],"mark":"rule","encoding":{"y":{"field":"v","type":"quantitative"},"y2":{"field":"e"}}},{"data":{"name":"fr"},"mark":"rule","encoding":{}},{"data":{"name":"ten"},"mark":{"type":"rule","style":"dash"},"encoding":{}}]},
{"width":199,"height":57,"data":{"values":[{"t":"300-350"}]},"mark":{"type":"text","style":"dl"},"encoding":{"text":{"field":"t","type":"nominal"}}},
{"height":57,"transform":[{"filter":"datum.q=='G8'"}],"encoding":{"x":{"field":"x","type":"quantitative","scale":{"domain":[0,30],"padding":0},"axis":{"labels":true,"titleOpacity":1,"title":"Total Length (mm)"}}},"layer":[{"mark":"bar","encoding":{"y":{"field":"v","type":"quantitative","scale":{"domain":[0,150,300],"range":[57,28.5,0]},"axis":{"values":[0,150,300]}}}},{"transform":[{"filter":"datum.e"}],"mark":"rule","encoding":{"y":{"field":"v","type":"quantitative"},"y2":{"field":"e"}}},{"data":{"name":"fr"},"mark":"rule","encoding":{}},{"data":{"name":"ten"},"mark":{"type":"rule","style":"dash"},"encoding":{}}]},
{"width":104,"height":1,"data":{"values":[]},"mark":"point"},
{"height":57,"transform":[{"filter":"datum.q=='H8'"}],"encoding":{"x":{"field":"x","type":"quantitative","scale":{"domain":[0,30],"padding":0},"axis":{"labels":true,"titleOpacity":1,"title":"Total Length (mm)"}}},"layer":[{"mark":"bar","encoding":{"y":{"field":"v","type":"quantitative","scale":{"domain":[0,1500,3000],"range":[57,28.5,0]},"axis":{"values":[0,1500,3000]}}}},{"transform":[{"filter":"datum.e"}],"mark":"rule","encoding":{"y":{"field":"v","type":"quantitative"},"y2":{"field":"e"}}},{"data":{"name":"fr"},"mark":"rule","encoding":{}},{"data":{"name":"ten"},"mark":{"type":"rule","style":"dash"},"encoding":{}}]}
]
}
